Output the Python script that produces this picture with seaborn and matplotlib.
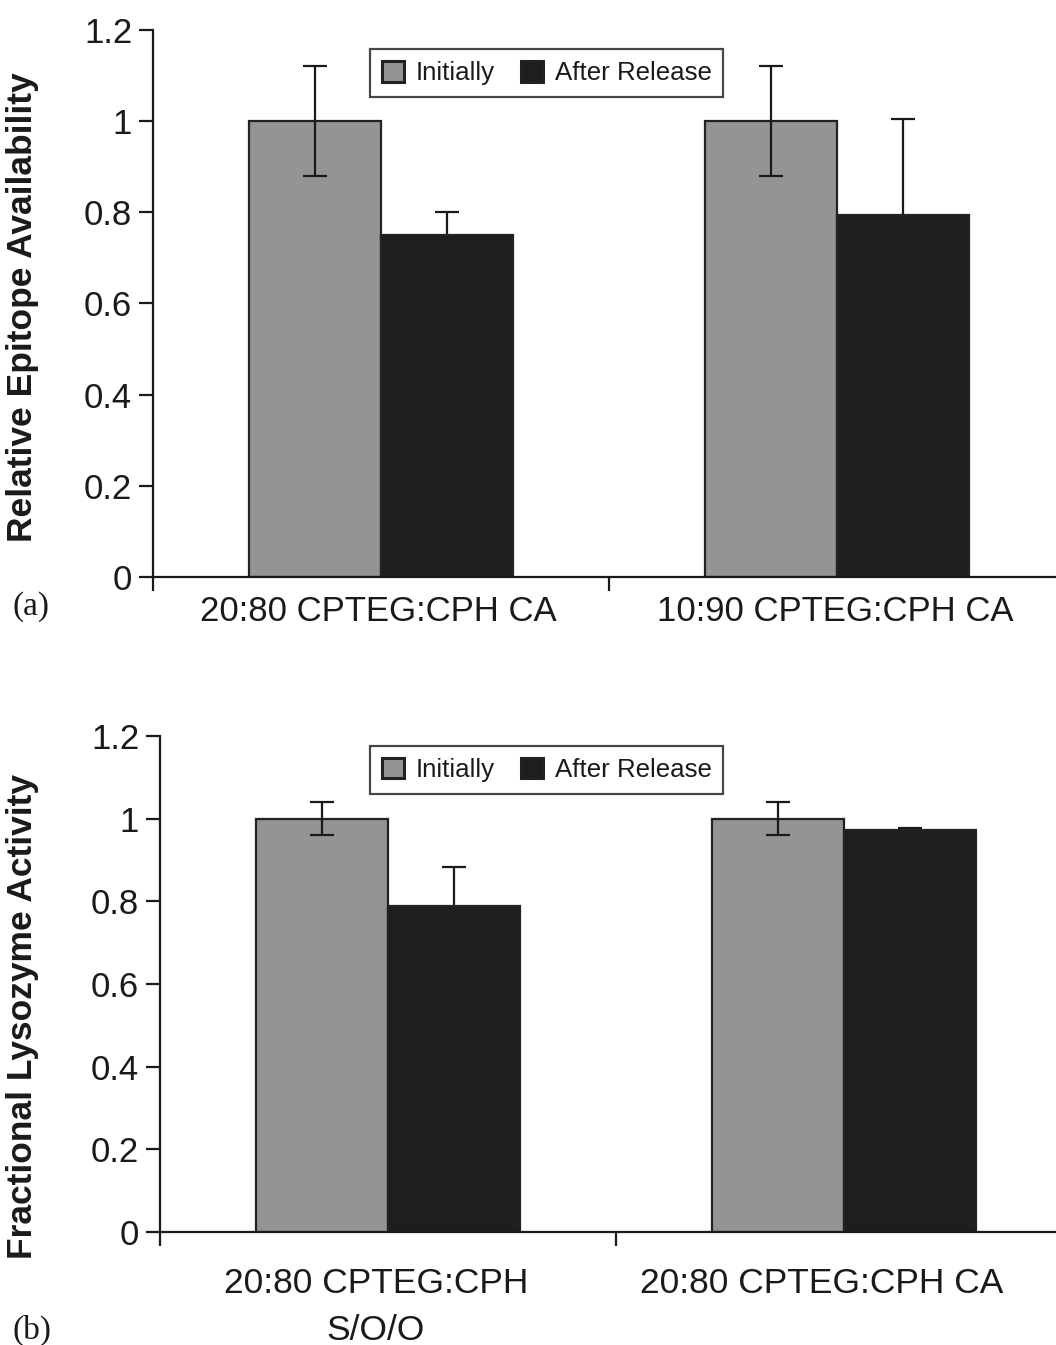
import matplotlib
matplotlib.use("Agg")
import matplotlib.pyplot as plt
import matplotlib.transforms as mtransforms
import seaborn as sns
import pandas as pd
from matplotlib.ticker import FuncFormatter, FixedLocator
from matplotlib.patches import Patch

# Data
series = ["Initially", "After Release"]
cats_a = ["20:80 CPTEG:CPH CA", "10:90 CPTEG:CPH CA"]
init_a = [1.0, 1.0]
init_a_err = [0.12, 0.12]
after_a = [0.75, 0.795]
after_a_err = [0.05, 0.21]

cats_b = ["20:80 CPTEG:CPH\nS/O/O", "20:80 CPTEG:CPH CA"]
init_b = [1.0, 1.0]
init_b_err = [0.04, 0.04]
after_b = [0.788, 0.972]
after_b_err = [0.095, 0.005]

yticks = [0, 0.2, 0.4, 0.6, 0.8, 1.0, 1.2]

sns.set_theme(style="white")
plt.rcParams['font.family'] = ['Liberation Sans', 'DejaVu Sans']

colors = {"Initially": "#949494", "After Release": "#1e1e1e"}
EDGE = "#222222"
INK = "#1a1a1a"

fig = plt.figure(figsize=(10.56, 13.45), dpi=100)
ax_a = fig.add_axes([0.1449, 0.571, 0.8636, 0.4067])
ax_b = fig.add_axes([0.1515, 0.084, 0.8636, 0.3688])


def fmt(v, pos):
    s = f"{v:.1f}"
    if s.endswith(".0"):
        s = s[:-2]
    return s


def panel(ax, cats, init, init_err, after, after_err, ylabel, leg_anchor,
          label_xy, xpad, xsize, xshift):
    df = pd.DataFrame({
        "cat": cats + cats,
        "series": [series[0]] * len(cats) + [series[1]] * len(cats),
        "value": init + after,
    })
    sns.barplot(data=df, x="cat", y="value", hue="series", order=cats,
                hue_order=series, palette=colors, width=0.58, errorbar=None,
                edgecolor=EDGE, linewidth=1.6, saturation=1, ax=ax, legend=False)
    errs = {series[0]: init_err, series[1]: after_err}
    vals = {series[0]: init, series[1]: after}
    zords = {series[0]: 5, series[1]: 0.5}
    for s, cont in zip(series, ax.containers):
        xs = [p.get_x() + p.get_width() / 2 for p in cont.patches]
        ax.errorbar(xs, vals[s], yerr=errs[s], fmt="none", ecolor=INK,
                    elinewidth=1.6, capsize=8.5, capthick=1.6, zorder=zords[s])
    ax.set_ylim(0, 1.2)
    ax.set_xlim(-0.5, 1.5)
    ax.yaxis.set_major_locator(FixedLocator(yticks))
    ax.yaxis.set_major_formatter(FuncFormatter(fmt))
    ax.set_xlabel("")
    ax.set_ylabel(ylabel, fontsize=25.5, fontweight="bold", color=INK)
    ax.yaxis.set_label_coords(*label_xy)
    for sp in ["top", "right"]:
        ax.spines[sp].set_visible(False)
    for sp in ["left", "bottom"]:
        ax.spines[sp].set_color(INK)
        ax.spines[sp].set_linewidth(1.6)
    ax.tick_params(axis="y", direction="out", length=10, width=1.6,
                   color=INK, labelsize=25, left=True, pad=5,
                   labelcolor=INK)
    ax.tick_params(axis="x", which="major", length=0, labelsize=xsize, pad=xpad,
                   labelcolor=INK)
    for t, dx in zip(ax.get_xticklabels(), xshift):
        t.set_linespacing(1.55)
        off = mtransforms.ScaledTranslation(dx / 100, 0, fig.dpi_scale_trans)
        t.set_transform(t.get_transform() + off)
    ax.set_xticks([-0.5, 0.5, 1.5], minor=True)
    ax.tick_params(axis="x", which="minor", direction="out", length=10,
                   width=1.6, color=INK, bottom=True)
    handles = [Patch(facecolor=colors[s], edgecolor=EDGE, linewidth=2.2, label=s)
               for s in series]
    leg = ax.legend(handles=handles, ncol=2, loc="upper left",
                    bbox_to_anchor=leg_anchor, bbox_transform=fig.transFigure,
                    fontsize=18.6, frameon=True, fancybox=False,
                    handlelength=0.87, handleheight=0.87, handletextpad=0.45,
                    columnspacing=1.0, borderpad=0.45, borderaxespad=0)
    leg.get_frame().set_edgecolor(INK)
    leg.get_frame().set_linewidth(1.6)
    for t in leg.get_texts():
        t.set_color(INK)


panel(ax_a, cats_a, init_a, init_a_err, after_a, after_a_err,
      "Relative Epitope Availability", (0.3504, 0.9636), (-0.125, 0.494), 13,
      25, [-3, -2])
panel(ax_b, cats_b, init_b, init_b_err, after_b, after_b_err,
      "Fractional Lysozyme Activity", (0.3504, 0.4454), (-0.1327, 0.435), 25,
      25.5, [-12, -22])

fig.text(12 / 1056, 1 - 607 / 1345, "(a)", family=["Liberation Serif"],
         fontsize=24, va="center", ha="left", color=INK)
fig.text(12 / 1056, 1 - 1330 / 1345, "(b)", family=["Liberation Serif"],
         fontsize=24, va="center", ha="left", color=INK)

fig.savefig("out.png", dpi=100)
